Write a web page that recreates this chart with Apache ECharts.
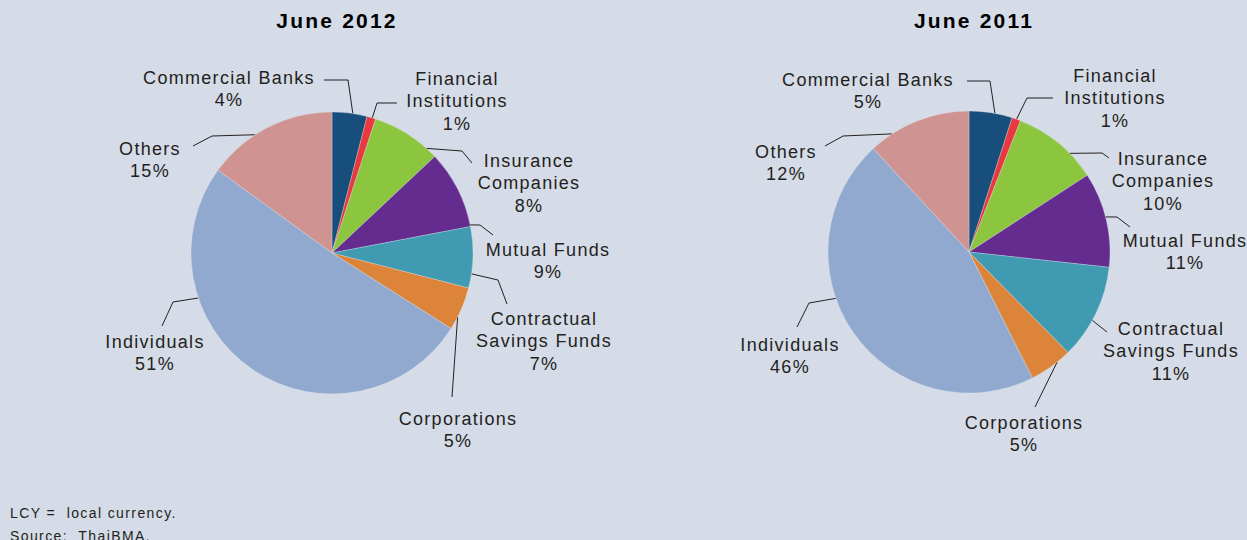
<!DOCTYPE html>
<html>
<head>
<meta charset="utf-8">
<script src="https://cdn.jsdelivr.net/npm/echarts@6/dist/echarts.min.js"></script>
<style>
  html, body { margin: 0; padding: 0; background: #d5dbe7; }
  #chart { width: 1247px; height: 540px; }
  #chart svg text { letter-spacing: 1.3px; }
  #chart svg text[style*="bold"] { letter-spacing: 2.2px; }
  #chart svg text[style*="14px"] { letter-spacing: 1.4px; }
</style>
</head>
<body>
<div id="chart"></div>
<script>
// Holders of LCY government bonds, share of total (%)
const categories = [
  'Commercial Banks',
  'Financial\nInstitutions',
  'Insurance\nCompanies',
  'Mutual Funds',
  'Contractual\nSavings Funds',
  'Corporations',
  'Individuals',
  'Others'
];
const share2012 = [4, 1, 8, 9, 7, 5, 51, 15];
const share2011 = [5, 1, 10, 11, 11, 5, 46, 12];
const periods = ['June 2012', 'June 2011'];
const notes = ['LCY =  local currency.', 'Source:  ThaiBMA.'];

const sliceColors = ['#174e7b', '#e8393f', '#8cc53e', '#652c8f', '#409ab1', '#dd843b', '#91a9cf', '#cf9492'];
const ink = '#231f20';

// Pie geometry and label placement (offsets from the pie centre)
const pies = [
  {
    center: [332, 253],
    radius: 141,
    labels: [
      { at: [-103, -164], edge: 8.5,   path: [[16, -173], [-8, -173]] },
      { at: [125, -152],  edge: 16.6,  path: [[45, -150], [65, -150]] },
      { at: [197, -70],   edge: 42.1,  path: [[130, -102], [140, -90]] },
      { at: [216, 8],     edge: 78.5,  path: [[148, -28], [161, -18]] },
      { at: [212, 88],    edge: 98.5,  path: [[166, 27], [175, 51]] },
      { at: [126, 177],   edge: 117,   path: [[120, 144]] },
      { at: [-177, 100],  edge: 251.4, path: [[-159, 49], [-170, 73]] },
      { at: [-182, -93],  edge: 327,   path: [[-120, -117], [-139, -107]] }
    ]
  },
  {
    center: [969, 252],
    radius: 141,
    labels: [
      { at: [-101, -161], edge: 10.6,  path: [[21, -171], [-2, -171]] },
      { at: [146, -154],  edge: 19.7,  path: [[58, -154], [84, -154]] },
      { at: [194, -71],   edge: 45.6,  path: [[133, -99], [140, -94]] },
      { at: [216, 0],     edge: 75.6,  path: [[148, -35], [161, -25]] },
      { at: [202, 99],    edge: 119,   path: [[138, 80]] },
      { at: [55, 182],    edge: 141.3, path: [[66, 155]] },
      { at: [-179, 104],  edge: 250.8, path: [[-160, 51], [-172, 75]] },
      { at: [-183, -89],  edge: 326.9, path: [[-126, -116], [-144, -106]] }
    ]
  }
];

const fontFamily = '"Liberation Sans", Arial, Helvetica, sans-serif';

function makeSeries(values, pie) {
  const cx = pie.center[0], cy = pie.center[1];
  return {
    type: 'pie',
    center: pie.center,
    radius: pie.radius,
    startAngle: 90,
    clockwise: true,
    avoidLabelOverlap: false,
    silent: true,
    animation: false,
    data: categories.map((name, i) => ({
      name: name,
      value: values[i],
      itemStyle: { color: sliceColors[i] }
    })),
    itemStyle: { borderColor: 'rgba(230,234,242,0.6)', borderWidth: 0.5 },
    label: {
      show: true,
      position: 'outside',
      formatter: '{b}\n{c}%',
      color: ink,
      fontFamily: fontFamily,
      fontSize: 18,
      lineHeight: 22.5,
      align: 'center'
    },
    labelLine: {
      show: true,
      lineStyle: { color: ink, width: 1 }
    },
    labelLayout: function (params) {
      const L = pie.labels[params.dataIndex];
      const a = L.edge * Math.PI / 180;
      const start = [cx + pie.radius * Math.sin(a), cy - pie.radius * Math.cos(a)];
      const pts = [start].concat(L.path.map(p => [cx + p[0], cy + p[1]]));
      return {
        x: cx + L.at[0],
        y: cy + L.at[1],
        align: 'center',
        verticalAlign: 'middle',
        labelLinePoints: pts
      };
    }
  };
}

const chart = echarts.init(document.getElementById('chart'), null, { renderer: 'svg' });

chart.setOption({
  backgroundColor: '#d5dbe7',
  animation: false,
  title: periods.map((t, i) => ({
    text: t,
    left: pies[i].center[0],
    top: 5,
    textAlign: 'center',
    textStyle: { color: '#000', fontFamily: fontFamily, fontWeight: 'bold', fontSize: 21 }
  })),
  series: [makeSeries(share2012, pies[0]), makeSeries(share2011, pies[1])],
  graphic: [{
    type: 'text',
    left: 10,
    top: 501,
    silent: true,
    style: {
      text: notes.join('\n'),
      fill: ink,
      font: '14px ' + fontFamily,
      lineHeight: 23
    }
  }]
});
</script>
</body>
</html>
